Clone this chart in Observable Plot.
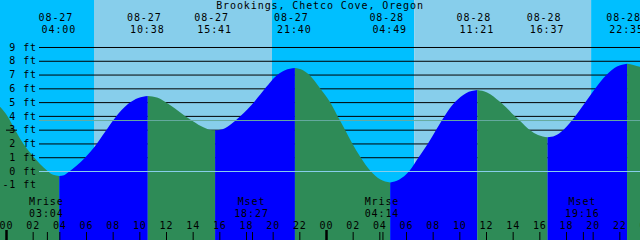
<!DOCTYPE html>
<html><head><meta charset="utf-8">
<script src="https://cdn.jsdelivr.net/npm/d3@7"></script>
<script src="https://cdn.jsdelivr.net/npm/@observablehq/plot@0.6"></script>
<style>html,body{margin:0;padding:0;overflow:hidden;background:#fff} svg text{letter-spacing:0.9px}</style>
</head><body><div id="chart"></div>
<script>
// ---- data ----
const title = "Brookings, Chetco Cove, Oregon";

// tide height (ft) at hours since 08-27 00:00
const tideHours = [-0.45, 0.10, 0.68, 1.30, 2.05, 3.05, 3.53, 4.00,
  4.35, 4.65, 5.925, 6.675, 7.425, 8.175, 9.17, 9.92, 10.633,
  11.325, 11.925, 12.675, 13.425, 14.05, 14.8, 15.225, 15.683,
  16.425, 17.175, 17.55, 18.675, 19.5, 20.175, 20.925, 21.667,
  22.275, 22.725, 23.55, 24.3, 24.86, 25.425, 25.95, 26.59, 27.34, 28.05, 28.817,
  29.475, 30.25, 30.95, 31.65, 32.265, 32.9, 33.675, 34.5, 35.35,
  36.08, 37.05, 38.175, 38.5, 39.3, 39.9, 40.617,
  41.17, 41.8, 42.675, 43.425, 44.175, 45.05, 45.825, 46.583,
  47.05, 47.55];
const tideFeet = [4.66, 4.00, 2.98, 1.98, 1.05, 0.05, -0.28, -0.36,
  -0.30, -0.10, 0.97, 1.80, 2.83, 3.85, 4.88, 5.30, 5.44,
  5.33, 5.02, 4.54, 4.00, 3.60, 3.17, 3.00, 2.95,
  3.11, 3.62, 3.95, 5.08, 6.07, 6.83, 7.31, 7.47,
  7.32, 7.00, 6.00, 5.00, 4.00, 3.00, 2.04, 1.00, 0.00, -0.60, -0.83,
  -0.63, 0.00, 1.00, 2.00, 3.00, 4.00, 5.00, 5.65, 5.88,
  5.70, 5.02, 3.97, 3.68, 2.96, 2.61, 2.45,
  2.56, 2.98, 3.95, 4.95, 5.97, 6.98, 7.58, 7.78,
  7.70, 7.56];

// high / low tide events
const eventDates = ["08-27", "08-27", "08-27", "08-27", "08-28", "08-28", "08-28", "08-28"];
const eventTimes = ["04:00", "10:38", "15:41", "21:40", "04:49", "11:21", "16:37", "22:35"];
const eventDays = [0, 0, 0, 0, 1, 1, 1, 1];

// sunrise / sunset
const sunTimes = ["06:36", "19:57", "06:37", "19:53"];
const sunDays = [0, 0, 1, 1];

// moonrise / moonset
const moonLabels = ["Mrise", "Mset", "Mrise", "Mset"];
const moonTimes = ["03:04", "18:27", "04:14", "19:16"];
const moonDays = [0, 0, 1, 1];

// axis labels
const levelFeet = [-1, 0, 1, 2, 3, 4, 5, 6, 7, 8, 9];
const gridFeet = [1, 2, 3, 4, 5, 6, 7, 8, 9];
const meanLevel = 3.70;
const hourLabels = ["00", "02", "04", "06", "08", "10", "12", "14", "16", "18", "20", "22"];

// ---- colours ----
const nightColor = "#00BFFF", dayColor = "#87CEEB";
const risingColor = "#0000FF", fallingColor = "#2E8B57";

// ---- helpers ----
const W = 640, H = 240;
const xStart = -0.45, xEnd = 47.55;
const ppf = 13.778, zeroPx = 171;
const yTop = zeroPx / ppf, yBot = -(H - zeroPx) / ppf;
const pxX = px => xStart + px / W * (xEnd - xStart);
const pxY = py => (zeroPx - py) / ppf;
const toH = (day, t) => { const [hh, mm] = t.split(":").map(Number); return day * 24 + hh + mm / 60; };

// tide rows split into rising / falling series
const n = tideHours.length;
const dirOut = i => i < n - 1 ? tideFeet[i + 1] > tideFeet[i] : tideFeet[i] > tideFeet[i - 1];
const tideRows = [];
let seg = 0;
for (let i = 0; i < n; i++) {
  const out = dirOut(i);
  if (i > 0) {
    const inc = dirOut(i - 1);
    if (inc !== out) {
      tideRows.push({h: tideHours[i], ft: tideFeet[i], seg, fill: inc ? risingColor : fallingColor});
      seg++;
    }
  }
  tideRows.push({h: tideHours[i], ft: tideFeet[i], seg, fill: out ? risingColor : fallingColor});
}

// sky bands
const sunH = sunTimes.map((t, i) => toH(sunDays[i], t));
const bounds = [xStart, ...sunH, xEnd];
const skyRows = bounds.slice(0, -1).map((b, i) => ({x1: b, x2: bounds[i + 1], fill: i % 2 === 0 ? nightColor : dayColor}));

const events = eventTimes.map((t, i) => ({h: toH(eventDays[i], t), date: eventDates[i], time: t}));
const moons = moonTimes.map((t, i) => ({h: toH(moonDays[i], t), label: moonLabels[i], time: t}));
const hourRows = [0, 1, 2].flatMap(d => hourLabels.map(l => ({h: d * 24 + Number(l), label: l}))).filter(r => r.h <= 48);
const tickH = hourRows.map(r => r.h).filter(h => h % 24 !== 0);
const midnights = [0, 24, 48];

const font = {fontFamily: "'DejaVu Sans Mono', monospace", fontSize: 10, fill: "black"};

const chart = Plot.plot({
  width: W, height: H,
  margin: 0,
  x: {domain: [xStart, xEnd], axis: null},
  y: {domain: [yBot, yTop], axis: null},
  color: {type: "identity"},
  style: {background: "white", fontFamily: "'DejaVu Sans Mono', monospace", fontSize: "10px"},
  marks: [
    Plot.rect(skyRows, {x1: "x1", x2: "x2", y1: yBot, y2: yTop, fill: "fill"}),
    Plot.ruleY(gridFeet, {x1: pxX(39), x2: xEnd, stroke: "black", strokeWidth: 1}),
    Plot.areaY(tideRows, {x: "h", y1: yBot, y2: "ft", z: "seg", fill: "fill", curve: "monotone-x"}),
    Plot.ruleY([0], {x1: pxX(39), x2: xEnd, stroke: dayColor}),
    Plot.ruleY([meanLevel], {x1: pxX(39), x2: xEnd, stroke: "#66AAA0"}),
    Plot.ruleY([3], {x1: pxX(6), x2: pxX(17), stroke: "black"}),
    Plot.text(levelFeet, {x: pxX(36.5), y: d => d, text: d => `${d} ft`, textAnchor: "end", ...font}),
    Plot.text([title], {x: pxX(319.5), y: pxY(5.5), text: d => d, ...font}),
    Plot.text(events, {x: "h", y: pxY(17), text: "date", dx: -4, ...font}),
    Plot.text(events, {x: "h", y: pxY(29), text: "time", dx: -1, ...font}),
    Plot.text(moons, {x: "h", y: pxY(201.5), text: "label", dx: -1, ...font}),
    Plot.text(moons, {x: "h", y: pxY(213), text: "time", dx: -1, ...font}),
    Plot.text(hourRows, {x: "h", y: pxY(225), text: "label", ...font}),
    Plot.ruleX(tickH, {y1: pxY(232), y2: yBot, stroke: "black"}),
    Plot.ruleX(moons, {x: "h", y1: pxY(232), y2: yBot, stroke: "black"}),
    Plot.ruleX(midnights, {y1: pxY(230), y2: yBot, stroke: "black", strokeWidth: 2.5})
  ]
});
document.getElementById("chart").appendChild(chart);
</script>
</body></html>
